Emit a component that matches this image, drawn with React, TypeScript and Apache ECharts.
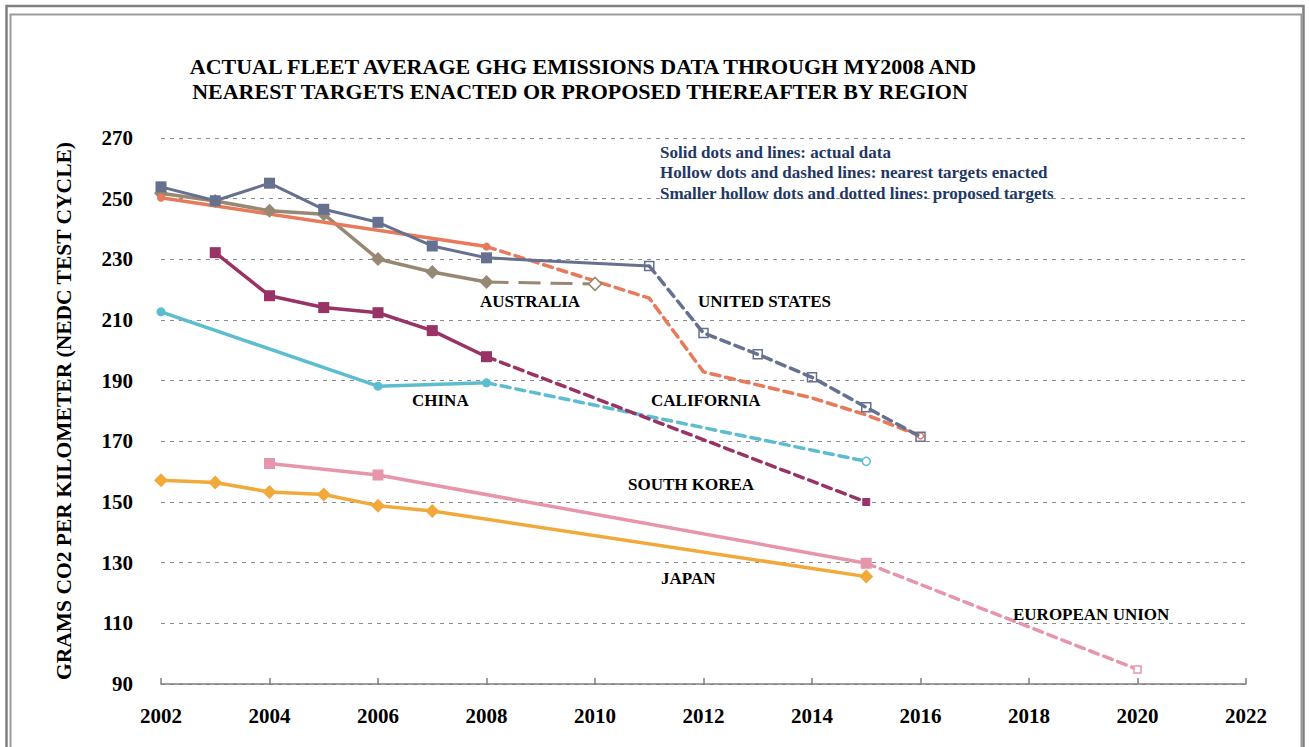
import React, { useEffect, useRef } from "react";
import * as echarts from "echarts";

// ---- Data (year, grams CO2 / km) ----
const US_ACTUAL = [[2002, 253.9], [2003, 249.3], [2004, 255.1], [2005, 246.5], [2006, 242.2], [2007, 234.4], [2008, 230.5], [2011, 227.8]];
const US_TARGET = [[2011, 227.8], [2012, 205.7], [2013, 198.7], [2014, 191.1], [2015, 181.2], [2016, 171.5]];
const CA_ACTUAL = [[2002, 250.3], [2008, 234.2]];
const CA_TARGET = [[2008, 234.2], [2011, 217.2], [2012, 192.9], [2013, 188.6], [2014, 184.3], [2015, 178.7], [2016, 171.8]];
const AU_ACTUAL = [[2002, 251.8], [2003, 249.2], [2004, 246.0], [2005, 244.9], [2006, 230.1], [2007, 225.8], [2008, 222.5]];
const AU_TARGET = [[2008, 222.5], [2010, 221.9]];
const KR_ACTUAL = [[2003, 232.2], [2004, 218.0], [2005, 214.1], [2006, 212.4], [2007, 206.5], [2008, 197.9]];
const KR_TARGET = [[2008, 197.9], [2015, 150.0]];
const CN_ACTUAL = [[2002, 212.7], [2006, 188.2], [2008, 189.3]];
const CN_TARGET = [[2008, 189.3], [2015, 163.4]];
const JP_ACTUAL = [[2002, 157.2], [2003, 156.4], [2004, 153.3], [2005, 152.5], [2006, 148.8], [2007, 147.0], [2015, 125.4]];
const EU_ACTUAL = [[2004, 162.7], [2006, 158.9], [2015, 129.8]];
const EU_TARGET = [[2015, 129.8], [2020, 94.8]];

const Y_MIN = 90;
const Y_MAX = 270;
const Y_STEP = 20;
const X_MIN = 2002;
const X_MAX = 2022;
const X_STEP = 2;

const TITLE_LINES = [
  "ACTUAL FLEET AVERAGE GHG EMISSIONS DATA THROUGH MY2008 AND",
  "NEAREST TARGETS ENACTED OR PROPOSED THEREAFTER BY REGION",
];
const NOTES = [
  "Solid dots and lines: actual data",
  "Hollow dots and dashed lines: nearest targets enacted",
  "Smaller hollow dots and dotted lines: proposed targets",
];
const REGION_LABELS: [string, number, number][] = [
  ["AUSTRALIA", 480, 301],
  ["UNITED STATES", 698, 301],
  ["CHINA", 412, 400],
  ["CALIFORNIA", 651, 400],
  ["SOUTH KOREA", 628, 484],
  ["JAPAN", 661, 578],
  ["EUROPEAN UNION", 1013, 614],
];

const C_US = "#66708F";
const C_CA = "#E8795A";
const C_AU = "#978873";
const C_KR = "#993366";
const C_CN = "#5CBDD1";
const C_JP = "#F2A93B";
const C_EU = "#E795AA";

const FONT = "'Liberation Serif', 'Times New Roman', serif";

function pts(arr: number[][], noSym: number[] = []) {
  return arr.map((p) =>
    noSym.includes(p[0]) ? { value: p, symbol: "none" } : { value: p }
  );
}

export default function App() {
  const ref = useRef<HTMLDivElement>(null);
  useEffect(() => {
    const chart = echarts.init(ref.current!, null, { renderer: "svg" });
    const dash = [9, 6];
    const base = { type: "line", silent: true, z: 3 };
    const option: any = {
      animation: false,
      backgroundColor: "#ffffff",
      grid: { left: 161, right: 63, top: 138, bottom: 63 },
      xAxis: {
        type: "value",
        min: X_MIN,
        max: X_MAX,
        interval: X_STEP,
        axisLine: { show: true, lineStyle: { color: "#7f7f7f", width: 1.5 } },
        axisTick: { show: true, inside: true, length: 6, lineStyle: { color: "#7f7f7f", width: 1.5 } },
        splitLine: { show: false },
        axisLabel: {
          margin: 21,
          color: "#000",
          fontFamily: FONT,
          fontWeight: "bold",
          fontSize: 21,
          formatter: (v: number) => String(v),
        },
      },
      yAxis: {
        type: "value",
        min: Y_MIN,
        max: Y_MAX,
        interval: Y_STEP,
        name: "GRAMS CO2 PER KILOMETER (NEDC TEST CYCLE)",
        nameLocation: "middle",
        nameGap: 86,
        nameRotate: 90,
        nameTextStyle: { color: "#000", fontFamily: FONT, fontWeight: "bold", fontSize: 21.5 },
        axisLine: { show: false },
        axisTick: { show: false },
        splitLine: { show: true, lineStyle: { color: "#8c8c8c", width: 1, type: [4, 5] } },
        axisLabel: { margin: 28, color: "#000", fontFamily: FONT, fontWeight: "bold", fontSize: 21 },
      },
      graphic: [
        { type: "rect", shape: { x: 6.5, y: 6, width: 1297, height: 900 }, style: { fill: "none", stroke: "#808080", lineWidth: 2.5 }, z: 100 },
        { type: "rect", shape: { x: 10.5, y: 14.5, width: 1291, height: 900 }, style: { fill: "none", stroke: "#9a9a9a", lineWidth: 2 }, z: 100 },
        ...TITLE_LINES.map((t, i) => ({
          type: "text",
          x: 583 - i * 3,
          y: 66 + i * 25,
          style: { text: t, fill: "#000", font: `bold 22px ${FONT}`, textAlign: "center", textVerticalAlign: "middle" },
          z: 100,
        })),
        ...NOTES.map((t, i) => ({
          type: "text",
          x: 660,
          y: 152 + i * 20.5,
          style: { text: t, fill: "#1F3864", font: `bold 17px ${FONT}`, textAlign: "left", textVerticalAlign: "middle" },
          z: 100,
        })),
        ...REGION_LABELS.map(([t, x, y]) => ({
          type: "text",
          x,
          y,
          style: { text: t, fill: "#000", font: `bold 17px ${FONT}`, textAlign: "left", textVerticalAlign: "middle" },
          z: 100,
        })),
      ],
      series: [
        // Japan
        { ...base, name: "Japan", data: pts(JP_ACTUAL), symbol: "diamond", symbolSize: 14, lineStyle: { color: C_JP, width: 3.5 }, itemStyle: { color: C_JP } },
        // EU
        { ...base, name: "EU", data: pts(EU_ACTUAL), symbol: "rect", symbolSize: 11, lineStyle: { color: C_EU, width: 3.5 }, itemStyle: { color: C_EU } },
        { ...base, name: "EU target", data: pts(EU_TARGET, [2015]), symbol: "rect", symbolSize: 7, lineStyle: { color: C_EU, width: 3.5, type: dash, cap: "round" }, itemStyle: { color: "#fff", borderColor: C_EU, borderWidth: 1.5 } },
        // China
        { ...base, name: "China", data: pts(CN_ACTUAL), symbol: "circle", symbolSize: 9, lineStyle: { color: C_CN, width: 3.5 }, itemStyle: { color: C_CN } },
        { ...base, name: "China target", data: pts(CN_TARGET, [2008]), symbol: "circle", symbolSize: 8, lineStyle: { color: C_CN, width: 3.5, type: dash, cap: "round" }, itemStyle: { color: "#fff", borderColor: C_CN, borderWidth: 1.5 } },
        // South Korea
        { ...base, name: "Korea", data: pts(KR_ACTUAL), symbol: "rect", symbolSize: 11, lineStyle: { color: C_KR, width: 3.5 }, itemStyle: { color: C_KR } },
        { ...base, name: "Korea target", data: pts(KR_TARGET, [2008]), symbol: "rect", symbolSize: 7, lineStyle: { color: C_KR, width: 3.5, type: dash, cap: "round" }, itemStyle: { color: C_KR, borderColor: C_KR, borderWidth: 1 } },
        // Australia
        { ...base, name: "Australia", data: pts(AU_ACTUAL), symbol: "diamond", symbolSize: 14, lineStyle: { color: C_AU, width: 3.5 }, itemStyle: { color: C_AU } },
        { ...base, name: "Australia target", data: pts(AU_TARGET, [2008]), symbol: "diamond", symbolSize: 13, lineStyle: { color: C_AU, width: 3, type: [22, 10] }, itemStyle: { color: "#fff", borderColor: C_AU, borderWidth: 1.5 } },
        // California
        { ...base, name: "California", data: pts(CA_ACTUAL), symbol: "circle", symbolSize: 8, lineStyle: { color: C_CA, width: 3.5 }, itemStyle: { color: C_CA } },
        { ...base, name: "California target", data: pts(CA_TARGET, [2008, 2011, 2012, 2013, 2014, 2015]), symbol: "circle", symbolSize: 6, lineStyle: { color: C_CA, width: 3.5, type: dash, cap: "round" }, itemStyle: { color: "#fff", borderColor: C_CA, borderWidth: 1.5 } },
        // United States
        { ...base, name: "US", data: pts(US_ACTUAL, [2011]), symbol: "rect", symbolSize: 11, lineStyle: { color: C_US, width: 3 }, itemStyle: { color: C_US } },
        { ...base, name: "US target", data: pts(US_TARGET), symbol: "rect", symbolSize: 9, z: 4, lineStyle: { color: C_US, width: 3.5, type: dash, cap: "round" }, itemStyle: { color: "rgba(255,255,255,0)", borderColor: C_US, borderWidth: 1.5 } },
      ],
    };
    chart.setOption(option);
    return () => chart.dispose();
  }, []);
  return (
    <div
      ref={ref}
      style={{ position: "fixed", left: 0, top: 0, width: 1309, height: 747, background: "#fff" }}
    />
  );
}
